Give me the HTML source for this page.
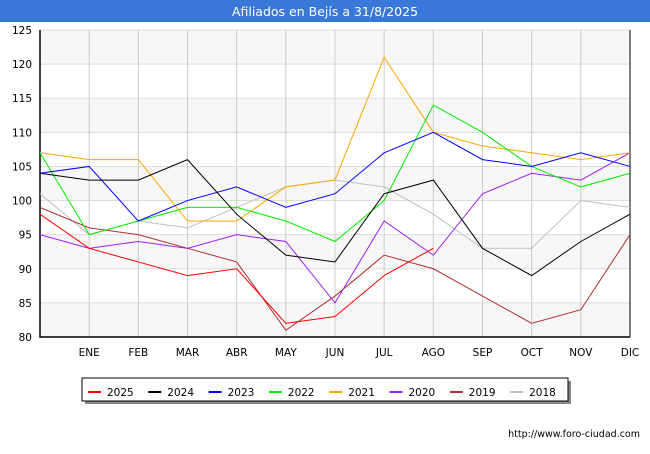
<!DOCTYPE html>
<html><head><meta charset="utf-8"><style>
body{margin:0;width:650px;height:450px;background:#fff;font-family:"DejaVu Sans","Liberation Sans",sans-serif;overflow:hidden}
svg text{font-family:"DejaVu Sans","Liberation Sans",sans-serif}
</style></head><body>
<svg width="650" height="450" xmlns="http://www.w3.org/2000/svg">
<rect x="0" y="0" width="650" height="22" fill="#3a78d8"/>
<text x="325" y="16" text-anchor="middle" fill="#fff" font-size="12.5">Afiliados en Bejís a 31/8/2025</text>
<g id="bands"></g><g id="grid"></g><g id="axes"></g><g id="series"></g><g id="legend"></g>
<text x="640" y="437" text-anchor="end" font-size="9.5" fill="#000">http://www.foro-ciudad.com</text>
</svg>
<script>
const months=["","ENE","FEB","MAR","ABR","MAY","JUN","JUL","AGO","SEP","OCT","NOV","DIC"];
const yTicks=[80,85,90,95,100,105,110,115,120,125];
const seriesNames=["2025","2024","2023","2022","2021","2020","2019","2018"];
const seriesColors=["#ff0000","#000000","#0000ff","#00ee00","#ffa500","#a020f0","#b03030","#c0c0c0"];
const s2025=[98,93,91,89,90,82,83,89,93];
const s2024=[104,103,103,106,98,92,91,101,103,93,89,94,98];
const s2023=[104,105,97,100,102,99,101,107,110,106,105,107,105];
const s2022=[107,95,97,99,99,97,94,100,114,110,105,102,104];
const s2021=[107,106,106,97,97,102,103,121,110,108,107,106,107];
const s2020=[95,93,94,93,95,94,85,97,92,101,104,103,107];
const s2019=[99,96,95,93,91,81,86,92,90,86,82,84,95];
const s2018=[101,95,97,96,99,102,103,102,98,93,93,100,99];
const allSeries=[s2025,s2024,s2023,s2022,s2021,s2020,s2019,s2018];
const X0=40,X1=630,Y0=337,Y1=30,ymin=80,ymax=125;
const xs=i=>X0+i*(X1-X0)/(months.length-1);
const ys=v=>Y0-(v-ymin)*(Y0-Y1)/(ymax-ymin);
const NS="http://www.w3.org/2000/svg";
function mk(t,a,p){const e=document.createElementNS(NS,t);for(const k in a)e.setAttribute(k,a[k]);document.getElementById(p).appendChild(e);return e;}
for(let i=0;i<yTicks.length-1;i+=2){
 const r=mk("rect",{x:X0,y:ys(yTicks[i]+5),width:X1-X0,height:ys(yTicks[i])-ys(yTicks[i]+5),fill:"#f7f7f7"},"bands");
 
 
}
yTicks.forEach(v=>{
 const l=mk("line",{x1:X0,x2:X1,y1:ys(v),y2:ys(v),stroke:"#ddd","stroke-width":1},"grid");
 
 
 const t=mk("text",{x:X0-8,y:ys(v)+4,"text-anchor":"end","font-size":10.5,fill:"#000"},"axes");
 t.textContent=v;
 
 
});
months.forEach((m,i)=>{
 if(i>0){const l=mk("line",{x1:xs(i),x2:xs(i),y1:Y1,y2:Y0,stroke:"#ccc","stroke-width":1},"grid");
 
 }
 const t=mk("text",{x:xs(i),y:356,"text-anchor":"middle","font-size":10.5,fill:"#000"},"axes");
 t.textContent=m;
 
 
});
const ax=mk("polyline",{points:`${X0},${Y1} ${X0},${Y0} ${X1},${Y0}`,fill:"none",stroke:"#000","stroke-width":1.5},"axes");


const fr=mk("line",{x1:X1,x2:X1,y1:Y1,y2:Y0,stroke:"#000","stroke-width":1},"axes");


for(let k=allSeries.length-1;k>=0;k--){
 const p=mk("polyline",{points:allSeries[k].map((v,i)=>xs(i)+","+ys(v)).join(" "),fill:"none",stroke:seriesColors[k],"stroke-width":1},"series");
 
 
}
const sh=mk("rect",{x:85,y:381,width:486,height:23,fill:"#888"},"legend");


const lb=mk("rect",{x:82,y:378,width:486,height:23,fill:"#fff",stroke:"#000","stroke-width":1},"legend");


seriesNames.forEach((n,k)=>{
 const x=88+k*60.3;
 const l=mk("line",{x1:x,x2:x+13,y1:392,y2:392,stroke:seriesColors[k],"stroke-width":2},"legend");
 
 
 const t=mk("text",{x:x+19,y:396,"font-size":10.5,fill:"#000"},"legend");
 t.textContent=n;
 
 
});
</script>
</body></html>
